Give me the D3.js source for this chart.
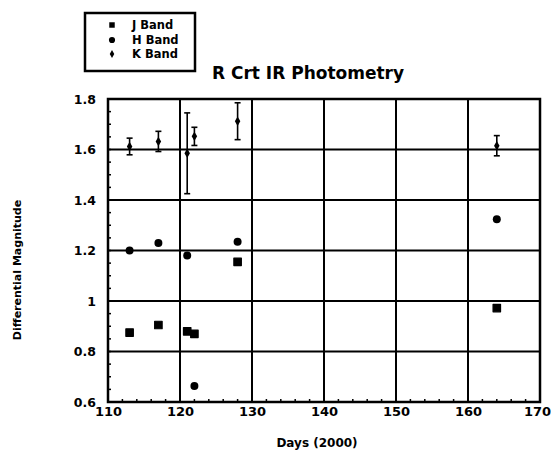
<!DOCTYPE html>
<html><head><meta charset="utf-8">
<script src="https://cdn.jsdelivr.net/npm/d3@7/dist/d3.min.js"></script>
<style>
body{margin:0;background:#fff;}
text{font-family:"DejaVu Sans",Verdana,sans-serif;font-weight:bold;fill:#000;}
</style></head>
<body><svg id="c" width="551" height="454"></svg>
<script>
const jDays = [113, 117, 121, 122, 128, 164];
const jMag  = [0.875, 0.905, 0.88, 0.87, 1.155, 0.972];
const hDays = [113, 117, 121, 122, 128, 164];
const hMag  = [1.2, 1.23, 1.18, 0.663, 1.235, 1.324];
const kDays = [113, 117, 121, 122, 128, 164];
const kMag  = [1.612, 1.632, 1.585, 1.652, 1.712, 1.615];
const kErr  = [0.033, 0.04, 0.16, 0.036, 0.073, 0.04];
const xTicks = [110, 120, 130, 140, 150, 160, 170];
const yTicks = [0.6, 0.8, 1, 1.2, 1.4, 1.6, 1.8];
const legendLabels = ["J Band", "H Band", "K Band"];

const svg = d3.select("#c");
const L = 108, R = 540, T = 99, B = 402;
const x = d3.scaleLinear().domain([110, 170]).range([L, R]);
const y = d3.scaleLinear().domain([0.6, 1.8]).range([B, T]);

// grid
const g = svg.append("g");
g.selectAll(".gx").data(xTicks).join("line")
  .attr("x1", d => x(d)).attr("x2", d => x(d)).attr("y1", T).attr("y2", B)
  .attr("stroke", "#000").attr("stroke-width", 2);
g.selectAll(".gy").data(yTicks).join("line")
  .attr("y1", d => y(d)).attr("y2", d => y(d)).attr("x1", L).attr("x2", R)
  .attr("stroke", "#000").attr("stroke-width", 2);
// frame
g.append("rect").attr("x", L).attr("y", T).attr("width", R - L).attr("height", B - T)
  .attr("fill", "none").attr("stroke", "#000").attr("stroke-width", 2.5);

// minor ticks (inside)
const xMinor = d3.range(110, 170.01, 2);
g.selectAll(".mx").data(xMinor).join("line")
  .attr("x1", d => x(d)).attr("x2", d => x(d)).attr("y1", B).attr("y2", B - 3)
  .attr("stroke", "#000").attr("stroke-width", 1.5);
const yMinor = d3.range(0.6, 1.8001, 0.05);
g.selectAll(".my").data(yMinor).join("line")
  .attr("y1", d => y(d)).attr("y2", d => y(d)).attr("x1", L).attr("x2", L + 3)
  .attr("stroke", "#000").attr("stroke-width", 1.5);

// axes labels via d3 axes
const xAxis = svg.append("g").attr("transform", `translate(0,${B})`)
  .call(d3.axisBottom(x).tickValues(xTicks).tickSize(0).tickPadding(5).tickFormat(d3.format("d")));
xAxis.select(".domain").remove();
xAxis.selectAll("text").attr("font-size", 13).attr("font-family", "DejaVu Sans").attr("font-weight", "bold").attr("fill", "#000")
  .attr("dx", d => d === 170 ? -3 : 0);
const yAxis = svg.append("g").attr("transform", `translate(${L},0)`)
  .call(d3.axisLeft(y).tickValues(yTicks).tickSize(0).tickPadding(12).tickFormat(d => String(+d.toFixed(1))));
yAxis.select(".domain").remove();
yAxis.selectAll("text").attr("font-size", 12.5).attr("font-family", "DejaVu Sans").attr("font-weight", "bold").attr("fill", "#000");

// error bars K
const kData = kDays.map((d, i) => ({d, m: kMag[i], e: kErr[i]}));
const eb = svg.append("g").attr("stroke", "#000").attr("stroke-width", 1.6);
eb.selectAll(".v").data(kData).join("line")
  .attr("x1", d => x(d.d)).attr("x2", d => x(d.d))
  .attr("y1", d => y(d.m - d.e)).attr("y2", d => y(d.m + d.e));
eb.selectAll(".t").data(kData).join("line")
  .attr("x1", d => x(d.d) - 3).attr("x2", d => x(d.d) + 3)
  .attr("y1", d => y(d.m + d.e)).attr("y2", d => y(d.m + d.e));
eb.selectAll(".b").data(kData).join("line")
  .attr("x1", d => x(d.d) - 3).attr("x2", d => x(d.d) + 3)
  .attr("y1", d => y(d.m - d.e)).attr("y2", d => y(d.m - d.e));

// markers
const sq = d3.symbol().type(d3.symbolSquare).size(56);
const ci = d3.symbol().type(d3.symbolCircle).size(50);
const di = d3.symbol().type(d3.symbolDiamond).size(26);
svg.append("g").selectAll("path").data(jDays.map((d, i) => [d, jMag[i]])).join("path")
  .attr("d", sq).attr("transform", d => `translate(${x(d[0])},${y(d[1])})`).attr("fill", "#000")
  .attr("stroke", "#000").attr("stroke-width", 1.2).attr("stroke-linejoin", "round");
svg.append("g").selectAll("path").data(hDays.map((d, i) => [d, hMag[i]])).join("path")
  .attr("d", ci).attr("transform", d => `translate(${x(d[0])},${y(d[1])})`).attr("fill", "#000");
svg.append("g").selectAll("path").data(kData).join("path")
  .attr("d", di).attr("transform", d => `translate(${x(d.d)},${y(d.m)})`).attr("fill", "#000");

// title & axis titles
svg.append("text").attr("x", 308).attr("y", 79).attr("text-anchor", "middle")
  .attr("font-size", 17).text("R Crt IR Photometry");
svg.append("text").attr("x", 317).attr("y", 447).attr("text-anchor", "middle")
  .attr("font-size", 12).text("Days (2000)");
svg.append("text").attr("transform", "translate(21,270) rotate(-90)").attr("text-anchor", "middle")
  .attr("font-size", 11).text("Differential Magnitude");

// legend
const lg = svg.append("g");
lg.append("rect").attr("x", 85).attr("y", 13).attr("width", 110).attr("height", 58)
  .attr("fill", "#fff").attr("stroke", "#000").attr("stroke-width", 2.5);
const lsyms = [d3.symbol().type(d3.symbolSquare).size(30), d3.symbol().type(d3.symbolCircle).size(30), d3.symbol().type(d3.symbolDiamond).size(18)];
const ly = [25, 40, 54];
legendLabels.forEach((t, i) => {
  lg.append("path").attr("d", lsyms[i]).attr("transform", `translate(112,${ly[i]})`).attr("fill", "#000");
  lg.append("text").attr("x", 132).attr("y", ly[i] + 4).attr("font-size", 11.5).text(t);
});
</script></body></html>
